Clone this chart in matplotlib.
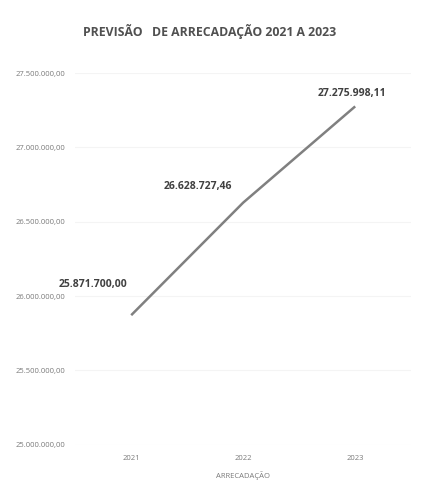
import matplotlib.pyplot as plt
from matplotlib.ticker import FuncFormatter

anos = ["2021", "2022", "2023"]
arrecadacao = [25871700.00, 26628727.46, 27275998.11]
rotulos = ["25.871.700,00", "26.628.727,46", "27.275.998,11"]


def br(v, pos=None):
    s = f"{v:,.2f}"
    return s.replace(",", "X").replace(".", ",").replace("X", ".")


plt.rcParams['font.family'] = ['Open Sans', 'DejaVu Sans']

fig = plt.figure(figsize=(4.45, 4.84), dpi=100)
ax = fig.add_axes([0.169, 0.081, 0.755, 0.768])

x = range(len(anos))
ax.plot(x, arrecadacao, color="#808080", lw=1.8, solid_capstyle="butt")

ax.set_xlim(-0.5, 2.5)
ax.set_ylim(25000000, 27500000)
ax.set_yticks([25000000, 25500000, 26000000, 26500000, 27000000, 27500000])
ax.yaxis.set_major_formatter(FuncFormatter(br))
ax.set_xticks(list(x))
ax.set_xticklabels(anos)

ax.grid(axis="y", color="#f4f4f4", lw=0.8)
ax.set_axisbelow(True)
for s in ax.spines.values():
    s.set_visible(False)
ax.tick_params(length=0, labelsize=5.5, labelcolor="#7a7a7a")
ax.tick_params(axis="y", pad=7)
ax.tick_params(axis="x", pad=7)

# offsets em pixels (rotulo relativo ao ponto)
offs = [(-38, 31), (-45, 16), (-3, 13)]
for i, (v, t) in enumerate(zip(arrecadacao, rotulos)):
    ax.annotate(t, (i, v), xytext=offs[i], textcoords="offset pixels",
                ha="center", va="center", fontsize=7.5, fontweight="bold",
                color="#404040")

ax.set_xlabel("ARRECADAÇÃO", fontsize=5.5, color="#7a7a7a", labelpad=7)
fig.suptitle("PREVISÃO   DE ARRECADAÇÃO 2021 A 2023", x=0.47, y=0.95,
             fontsize=8.8, fontweight="bold", color="#505050")

fig.savefig("out.png", dpi=100)
